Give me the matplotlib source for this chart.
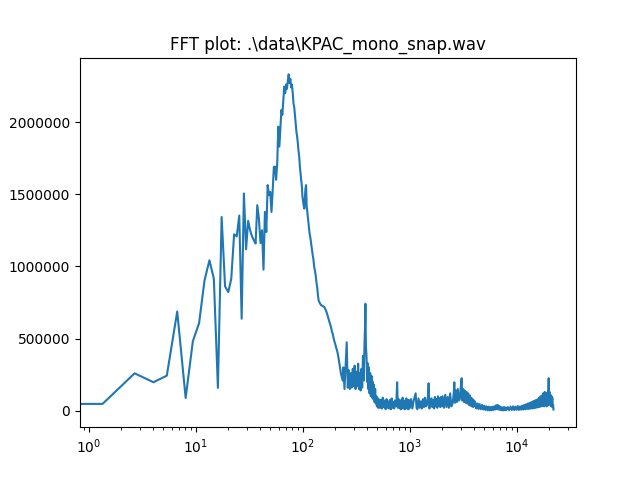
import numpy as np
import matplotlib
matplotlib.use('Agg')
import matplotlib.pyplot as plt

# low frequency bins (Hz) and magnitudes
low_freq = [0, 1.35, 2.69, 4.04, 5.38, 6.73, 8.07, 9.42, 10.77, 12.11, 13.46,
            14.8, 16.15, 17.5, 18.84, 20.19, 21.53, 22.88, 24.22, 25.57, 26.92,
            28.26, 29.61, 30.95, 32.3, 33.65, 34.99, 36.34, 37.68, 39.03, 40.37,
            41.72, 43.07, 44.41, 45.76, 47.1, 48.45, 49.8, 51.14, 52.49, 53.83]
low_mag = [47000, 47000, 259000, 197000, 243000, 687000, 88000, 481000, 606000, 903000, 1042000,
           914000, 158000, 1342000, 861000, 822000, 914000, 1222000, 1208000, 1352000, 637000,
           1505000, 1118000, 1315000, 1250000, 1208000, 1181000, 1158000, 1424000, 1331000, 1162000,
           1250000, 977000, 1377000, 1238000, 1563000, 1493000, 1516000, 1377000, 1528000, 1690000]

# main peak around 75 Hz
peak_freq = [55.2, 56.5, 57.9, 59.2, 60.6, 61.9, 63.3, 64.6, 66.0, 67.3, 68.7, 70.0,
             71.3, 72.7, 74.0, 75.4, 76.7, 78.1, 79.4, 80.8, 82.1, 83.5, 84.8, 86.1,
             87.5, 88.8, 90.2, 91.5, 92.9, 94.2, 95.6, 96.9, 98.2, 99.6, 101.0, 102.3,
             103.7, 105.0, 106.3, 107.7, 109.0, 110.4, 113, 116, 118, 120, 122, 124,
             126, 128, 131, 133, 135, 137, 139, 141, 146, 150, 154, 160, 166, 171,
             177, 184, 188, 191, 195, 198, 202, 205, 209, 213, 217, 220, 224, 228, 237]
peak_mag = [1690000, 1600000, 1720000, 1968000, 1830000, 1950000, 2083000, 2050000, 2150000, 2245000, 2200000, 2260000,
            2230000, 2280000, 2330000, 2270000, 2300000, 2240000, 2260000, 2200000, 2130000, 2100000, 2040000, 1990000,
            1930000, 1900000, 1852000, 1800000, 1760000, 1690000, 1640000, 1600000, 1560000, 1481000, 1450000, 1420000,
            1400000, 1480000, 1540000, 1563000, 1420000, 1380000, 1300000, 1230000, 1200000, 1157000, 1120000, 1080000,
            1050000, 1000000, 960000, 926000, 880000, 850000, 800000, 764000, 740000, 729000, 725000, 717000, 690000, 660000,
            620000, 580000, 545000, 533000, 500000, 480000, 460000, 440000, 420000, 394000, 360000, 330000, 290000, 257000,
            208000]

# noisy band 240 Hz - 1 kHz (values in thousands)
mid_freq = [240, 246, 252, 258, 264, 270, 276, 282, 288, 294, 300, 306, 312, 318, 324, 330,
            336, 342, 348, 354, 360, 366, 372, 378, 382, 386, 390, 395, 400, 405, 410, 416,
            422, 428, 434, 440, 446, 452, 458, 464, 470, 476, 482, 488, 494, 500, 506, 512,
            524, 536, 548, 560, 572, 584, 596, 608, 620, 632, 644, 656, 668, 680, 692, 704,
            716, 728, 740, 752, 763, 776, 788, 800, 812, 824, 836, 848, 860, 872, 884, 896,
            908, 920, 932, 944, 956, 968, 980, 992]
mid_mag_k = [300, 150, 310, 474, 160, 280, 150, 260, 160, 290, 170, 312, 150, 270, 170, 326,
             150, 260, 140, 290, 160, 380, 210, 450, 560, 741, 450, 380, 200, 330, 150, 300,
             120, 260, 100, 240, 90, 200, 80, 180, 60, 150, 50, 100, 30, 90, 20, 80,
             20, 75, 15, 90, 25, 70, 10, 80, 20, 65, 15, 75, 10, 85, 20, 60,
             15, 70, 30, 60, 197, 20, 80, 20, 65, 10, 75, 15, 90, 20, 60, 10,
             70, 15, 85, 20, 60, 10, 75, 15]

# noisy band 1 kHz - 22.05 kHz (values in thousands)
high_freq = [1000, 1030, 1060, 1090, 1137, 1160, 1180, 1210, 1240, 1270, 1300, 1330, 1360, 1390,
             1420, 1450, 1480, 1504, 1530, 1560, 1600, 1630, 1660, 1690, 1720, 1750, 1780,
             1810, 1840, 1870, 1900, 1930, 1960, 1990,
             2030, 2090, 2150, 2210, 2270, 2330, 2390, 2450, 2520, 2580, 2613, 2650, 2700,
             2760, 2820, 2880, 2940, 3000, 3060, 3100, 3160, 3220, 3280, 3340, 3400, 3460,
             3520, 3580, 3640, 3700, 3760, 3820, 3880, 3940, 4000,
             4100, 4200, 4300, 4400, 4500, 4620, 4740, 4860, 4980, 5100, 5220, 5340, 5460,
             5580, 5700, 5820, 5940, 6060, 6180, 6300, 6420, 6540, 6660, 6780, 6900, 7020,
             7140, 7260, 7380, 7500, 7620, 7740, 7860, 7980,
             8250, 8500, 8750, 9000, 9250, 9500, 9750, 10000, 10250, 10500, 10750, 11000,
             11250, 11500, 11750, 12000, 12250, 12500, 12750, 13000, 13250, 13500, 13750,
             14000, 14250, 14500, 14750, 15000, 15250, 15500, 15750,
             16000, 16250, 16500, 16750, 17000, 17250, 17500, 17750, 18000, 18250, 18500,
             18750, 19000, 19250, 19500, 19700, 19900, 20100, 20300, 20500, 20700, 20900,
             21100, 21300, 21500, 21700, 21900, 22050]
high_mag_k = [20, 80, 15, 70, 120, 20, 10, 85, 20, 65, 15, 80, 25, 90,
              30, 40, 95, 190, 15, 70, 85, 25, 75, 15, 95, 30, 80,
              20, 100, 35, 85, 25, 95, 30,
              100, 20, 110, 25, 95, 20, 120, 30, 50, 120, 197, 55, 140,
              60, 150, 70, 80, 160, 225, 70, 150, 60, 140, 55, 130, 50,
              120, 40, 105, 35, 90, 30, 80, 25, 70,
              55, 15, 50, 12, 45, 10, 40, 8, 35, 5, 30, 3, 28,
              2, 25, 3, 28, 5, 30, 8, 38, 10, 40, 8, 32, 5,
              25, 3, 22, 2, 25, 4, 22, 3,
              25, 3, 28, 5, 30, 4, 28, 6, 32, 5, 30, 7,
              35, 8, 40, 10, 45, 12, 50, 12, 55, 15, 60,
              15, 65, 18, 70, 20, 75, 22, 80,
              25, 90, 28, 100, 30, 105, 35, 120, 30, 130, 40,
              115, 30, 125, 35, 130, 225, 60, 130, 40, 110, 30,
              100, 30, 90, 25, 40, 8]

freq = np.concatenate([low_freq, peak_freq, mid_freq, high_freq])
mag = np.concatenate([low_mag, peak_mag,
                      np.array(mid_mag_k) * 1000, np.array(high_mag_k) * 1000])

fig, ax = plt.subplots(figsize=(6.4, 4.8), dpi=100)
ax.plot(freq, mag)
ax.set_xscale('log')
ax.ticklabel_format(axis='y', style='plain')
ax.set_title(r'FFT plot: .\data\KPAC_mono_snap.wav')
fig.savefig('out.png')
